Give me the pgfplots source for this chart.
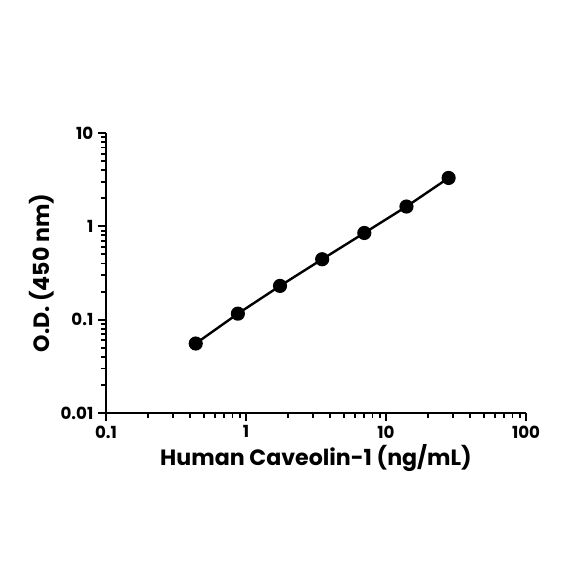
\documentclass[border=0pt]{standalone}
\usepackage{pgfplots}
\pgfplotsset{compat=1.18}
\usepackage{fontspec}
\setmainfont{Poppins}
\begin{document}
\begin{tikzpicture}
\path[use as bounding box] (-79.5pt,-128.25pt) rectangle (358.5pt,309.75pt);
\begin{axis}[
  at={(0,0)}, anchor=south west,
  scale only axis, width=315pt, height=210pt,
  xmode=log, ymode=log,
  xmin=0.1, xmax=100, ymin=0.01, ymax=10,
  axis x line*=bottom, axis y line*=left,
  axis line style={line width=1.8pt, -},
  every tick/.style={black, line width=1.4pt},
  tick align=outside,
  major tick length=6pt, minor tick length=3.5pt,
  xtick={0.1,1,10,100}, xticklabels={0.1,1,10,100},
  ytick={0.01,0.1,1,10}, yticklabels={0.01,0.1,1,10},
  ticklabel style={font=\fontsize{12.5}{14}\selectfont\bfseries},
  label style={font=\fontsize{16.6}{20}\selectfont\bfseries},
  xlabel={Human Caveolin-1 (ng/mL)},
  ylabel={O.D. (450 nm)},
  xlabel style={yshift=2pt},
  ylabel style={yshift=-2pt},
  clip=false,
]
\addplot[black, line width=1.8pt, mark=*, mark size=4.4pt] coordinates {
  (0.4375,0.0555) (0.875,0.116) (1.75,0.230) (3.5,0.444) (7,0.849) (14,1.63) (28,3.30)
};
\end{axis}
\end{tikzpicture}
\end{document}
